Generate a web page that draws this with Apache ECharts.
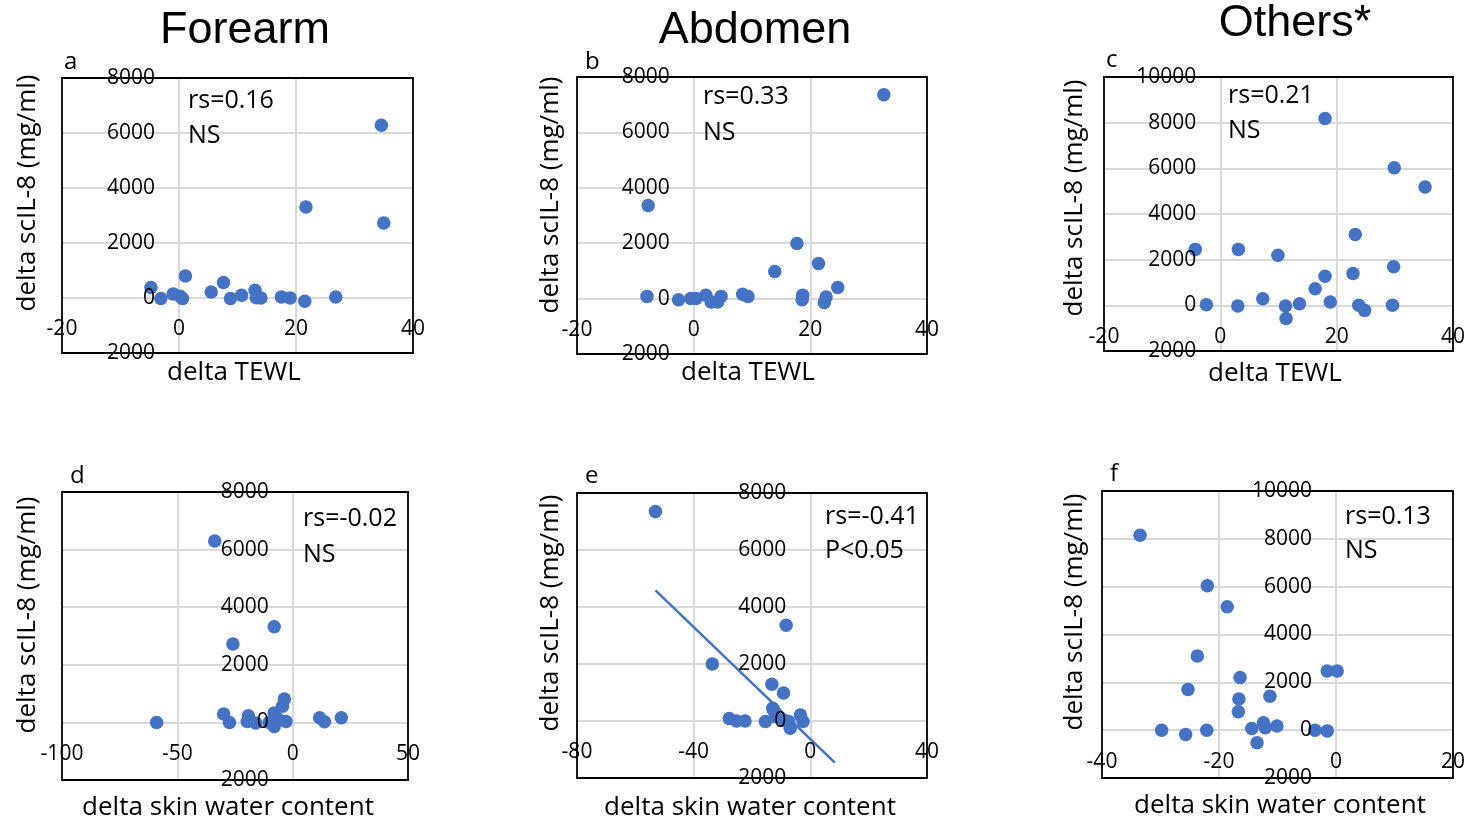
<!DOCTYPE html>
<html>
<head>
<meta charset="utf-8">
<script src="https://cdn.jsdelivr.net/npm/echarts@6/dist/echarts.min.js"></script>
<style>
  html, body { margin: 0; padding: 0; background: #fff; }
  #chart { width: 1470px; height: 829px; }
</style>
</head>
<body>
<div id="chart"></div>
<script>
// Change in scIL-8 against change in TEWL (top row) and skin water content (bottom row)

// [delta TEWL, delta scIL-8]
const forearmTewl = [[34.6,6280],[21.7,3310],[35.0,2730],[1.1,800],[7.6,560],[-4.8,380],[5.5,220],[13.0,280],[-1.0,150],[10.7,100],[-3.1,-20],[0.2,60],[0.6,-20],[8.8,-20],[13.2,10],[14.0,0],[17.5,40],[19.0,0],[21.5,-120],[26.8,40]];
const abdomenTewl = [[32.6,7360],[-7.8,3360],[17.7,1990],[21.4,1270],[13.9,980],[24.7,400],[-8.0,80],[-2.6,-40],[-0.5,0],[0.4,0],[2.1,120],[3.0,-120],[4.1,-120],[4.7,80],[8.4,160],[9.3,80],[18.7,120],[18.6,-40],[22.4,-140],[22.7,60]];
const othersTewl = [[18.0,8180],[29.9,6030],[35.2,5180],[23.2,3100],[-4.3,2450],[3.1,2450],[9.9,2190],[29.8,1690],[22.8,1390],[18.0,1270],[16.3,730],[7.3,290],[-2.4,30],[3.0,-30],[11.2,-30],[11.3,-580],[13.6,70],[18.9,150],[23.8,0],[24.8,-220],[29.6,0]];

// [delta skin water content, delta scIL-8]
const forearmWater = [[-33.8,6300],[-8.0,3320],[-25.9,2720],[-59.0,0],[-3.6,810],[-4.4,560],[-8.0,330],[-29.9,290],[-27.4,0],[-19.2,230],[-19.7,30],[-16.0,-20],[-8.0,-140],[-2.9,30],[-10.2,0],[-6.0,100],[11.7,160],[13.8,20],[21.1,160]];
const abdomenWater = [[-53.1,7350],[-8.3,3360],[-33.6,2000],[-13.2,1290],[-9.2,980],[-12.9,450],[-27.8,90],[-25.3,0],[-22.4,0],[-15.4,-20],[-12.6,380],[-12.0,150],[-7.4,-20],[-6.9,-250],[-3.4,210],[-2.5,-20],[-9.1,30]];
const othersWater = [[-33.5,8150],[-22.0,6040],[-18.6,5160],[-23.7,3100],[-1.5,2470],[0.2,2470],[-16.4,2200],[-25.3,1700],[-11.3,1420],[-16.6,1300],[-16.7,770],[-29.8,0],[-25.7,-180],[-22.1,0],[-14.4,70],[-12.4,310],[-12.1,100],[-10.1,170],[-13.5,-530],[-3.6,0],[-1.5,-30]];

// Linear trend for abdomen / water content: [slope, intercept] and its x span
const abdomenTrendCoef = [-98.3, -634];
const abdomenTrendSpan = [-53.1, 8.4];

// Axis ranges: [min, max, interval]
const tewlRange = [-20, 40, 20];
const forearmWaterRange = [-100, 50, 50];
const abdomenWaterRange = [-80, 40, 40];
const othersWaterRange = [-40, 20, 20];
const il8Range8k = [-2000, 8000, 2000];
const il8Range10k = [-2000, 10000, 2000];

// Column headings and statistics
const siteTitles = ['Forearm', 'Abdomen', 'Others*'];
const panelLetters = ['a', 'b', 'c', 'd', 'e', 'f'];
const statLines = [['rs=0.16', 'NS'], ['rs=0.33', 'NS'], ['rs=0.21', 'NS'], ['rs=-0.02', 'NS'], ['rs=-0.41', 'P<0.05'], ['rs=0.13', 'NS']];
const xTitles = ['delta TEWL', 'delta TEWL', 'delta TEWL', 'delta skin water content', 'delta skin water content', 'delta skin water content'];
const yTitle = 'delta scIL-8 (mg/ml)';

const BODY_FONT = '"Open Sans", "DejaVu Sans", sans-serif';
const TITLE_FONT = '"Liberation Sans", Arial, sans-serif';
const DOT = '#4472C4';
const GRIDLINE = '#d9d9d9';

const panels = [
  { data: forearmTewl,  xr: tewlRange,          yr: il8Range8k,  box: [62, 78, 351, 275],  stats: [188, 101, 136], letter: [64, 62],  yt: [28, 193],   xt: [234, 373] },
  { data: abdomenTewl,  xr: tewlRange,          yr: il8Range8k,  box: [577, 77, 350, 277], stats: [703, 97, 133],  letter: [585, 62], yt: [551, 195],  xt: [748, 373] },
  { data: othersTewl,   xr: tewlRange,          yr: il8Range10k, box: [1104, 77, 349, 274], stats: [1228, 96, 131], letter: [1106, 60], yt: [1075, 198], xt: [1275, 374] },
  { data: forearmWater, xr: forearmWaterRange,  yr: il8Range8k,  box: [62, 492, 346, 288], stats: [303, 519, 555], letter: [70, 476], yt: [28, 615],   xt: [228, 808] },
  { data: abdomenWater, xr: abdomenWaterRange,  yr: il8Range8k,  box: [577, 493, 350, 285], stats: [825, 517, 551], letter: [585, 476], yt: [551, 613], xt: [750, 808] },
  { data: othersWater,  xr: othersWaterRange,   yr: il8Range10k, box: [1102, 491, 351, 287], stats: [1345, 517, 551], letter: [1110, 474], yt: [1075, 612], xt: [1280, 806] }
];

const titlePos = [[245, 31], [755, 31], [1295, 24]];

const option = {
  animation: false,
  backgroundColor: '#fff',
  textStyle: { fontFamily: BODY_FONT },
  grid: [], xAxis: [], yAxis: [], series: [], graphic: []
};

function baseAxis(range, i, pos) {
  return { type: 'value', gridIndex: i, min: range[0], max: range[1], interval: range[2], position: pos };
}

// Main axes: tick labels, shifted onto the zero lines below, drawn above the dots
panels.forEach((p, i) => {
  option.grid.push({
    left: p.box[0], top: p.box[1], width: p.box[2], height: p.box[3],
    show: true, z: 1, borderColor: '#000', borderWidth: 1.8, backgroundColor: 'transparent',
    containLabel: false, outerBoundsMode: 'none'
  });
  ['xAxis', 'yAxis'].forEach(k => {
    const isX = k === 'xAxis';
    const r = isX ? p.xr : p.yr;
    option[k].push(Object.assign(baseAxis(r, i, isX ? 'bottom' : 'left'), {
      z: 5,
      offset: 0,
      axisLine: { show: false, onZero: false },
      axisTick: { show: false },
      axisLabel: {
        show: true, margin: isX ? 21 : 24, fontSize: 21, fontFamily: BODY_FONT, color: '#000',
        formatter: v => String(v)
      },
      splitLine: { show: false }
    }));
  });
});

// Companion axes: inner gridlines only, drawn beneath the dots
panels.forEach((p, i) => {
  ['xAxis', 'yAxis'].forEach(k => {
    const isX = k === 'xAxis';
    const r = isX ? p.xr : p.yr;
    option[k].push(Object.assign(baseAxis(r, i, isX ? 'top' : 'right'), {
      z: 0,
      axisLine: { show: false, onZero: false },
      axisTick: { show: false },
      axisLabel: { show: false },
      splitLine: { show: true, showMinLine: false, showMaxLine: false, lineStyle: { color: GRIDLINE, width: 2 } }
    }));
  });
});

panels.forEach((p, i) => {
  option.series.push({
    type: 'scatter', xAxisIndex: i, yAxisIndex: i, z: 2,
    symbol: 'circle', symbolSize: 13.5,
    itemStyle: { color: DOT, opacity: 1 },
    data: p.data
  });
});

// Trend line for the abdomen / water content panel
option.series.push({
  type: 'line', xAxisIndex: 4, yAxisIndex: 4, z: 3,
  showSymbol: false, symbol: 'none',
  lineStyle: { color: DOT, width: 2.5 },
  data: abdomenTrendSpan.map(x => [x, abdomenTrendCoef[0] * x + abdomenTrendCoef[1]])
});

function text(str, x, y, font, align, extra) {
  return Object.assign({
    type: 'text', x: x, y: y, z: 100,
    style: { text: str, font: font, fill: '#000', align: align || 'left', verticalAlign: 'middle' }
  }, extra || {});
}

siteTitles.forEach((t, i) => {
  option.graphic.push(text(t, titlePos[i][0], titlePos[i][1], '45px ' + TITLE_FONT, 'center'));
});

panels.forEach((p, i) => {
  option.graphic.push(text(panelLetters[i], p.letter[0], p.letter[1], '24px ' + BODY_FONT, 'left'));
  option.graphic.push(text(statLines[i][0], p.stats[0], p.stats[1], '25px ' + BODY_FONT, 'left'));
  option.graphic.push(text(statLines[i][1], p.stats[0], p.stats[2], '25px ' + BODY_FONT, 'left'));
  option.graphic.push(text(xTitles[i], p.xt[0], p.xt[1], '26px ' + BODY_FONT, 'center'));
  option.graphic.push(text(yTitle, p.yt[0], p.yt[1], '26px ' + BODY_FONT, 'center', { rotation: Math.PI / 2 }));
});

const chart = echarts.init(document.getElementById('chart'), null, { renderer: 'canvas' });
chart.setOption(option);

// Move each label axis so it crosses the other axis at zero
panels.forEach((p, i) => {
  const zero = chart.convertToPixel({ xAxisIndex: i, yAxisIndex: i }, [0, 0]);
  option.xAxis[i].offset = zero[1] - (p.box[1] + p.box[3]);
  option.yAxis[i].offset = p.box[0] - zero[0];
});
chart.setOption(option);
</script>
</body>
</html>
